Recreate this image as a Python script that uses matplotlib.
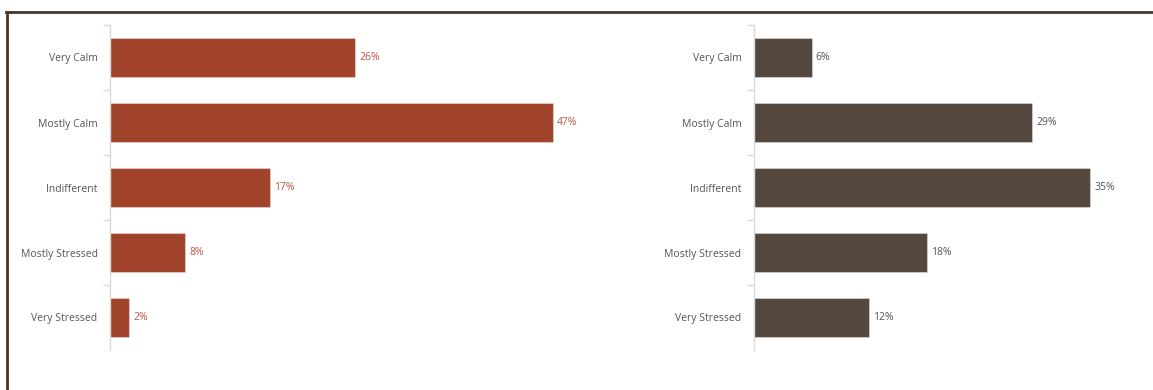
import matplotlib
matplotlib.use("Agg")
import matplotlib.pyplot as plt
from matplotlib.lines import Line2D
import numpy as np

categories = ["Very Calm", "Mostly Calm", "Indifferent", "Mostly Stressed", "Very Stressed"]
left_values = [26, 47, 17, 8, 2]
right_values = [6, 29, 35, 18, 12]

W, H = 1153, 390
fig = plt.figure(figsize=(W / 100, H / 100), dpi=100)
plt.rcParams['font.family'] = ['Open Sans', 'DejaVu Sans']

def add_panel(x0, x1, xmax, values, color, label_color):
    top, bottom = 25, 350
    ax = fig.add_axes([x0 / W, 1 - bottom / H, (x1 - x0) / W, (bottom - top) / H])
    y = np.arange(len(categories))
    ax.barh(y, values, height=0.6, color=color, edgecolor=(1, 1, 1, 0.35), linewidth=0.8)
    ax.set_xlim(0, xmax)
    ax.set_ylim(len(categories) - 0.5, -0.5)
    for s in ["top", "right", "bottom"]:
        ax.spines[s].set_visible(False)
    ax.spines["left"].set_color("#d9d9d9")
    ax.spines["left"].set_linewidth(1.0)
    ax.set_xticks([])
    ax.set_yticks(y)
    ax.set_yticklabels(categories, fontsize=7.5, color="#555555")
    ax.tick_params(axis="y", which="major", length=0, pad=9)
    ax.set_yticks(np.arange(-0.5, len(categories) - 1), minor=True)
    ax.tick_params(axis="y", which="minor", length=5, color="#d9d9d9", width=1.0)
    for yi, v in zip(y, values):
        ax.annotate(f"{v}%", (v, yi), xytext=(3, 0), textcoords="offset points",
                    va="center", ha="left", fontsize=7.5, color=label_color)
    return ax

add_panel(110, 581, 50, left_values, "#a0432a", "#b35a45")
add_panel(754, 1138, 40, right_values, "#54473e", "#555555")

# frame lines
fig.add_artist(Line2D([6 / W, 1152 / W], [1 - 12 / H, 1 - 12 / H], color="#4a3628", linewidth=2))
fig.add_artist(Line2D([7 / W, 7 / W], [1 - 12 / H, 0], color="#4a3628", linewidth=2))

fig.savefig("out.png", dpi=100)
